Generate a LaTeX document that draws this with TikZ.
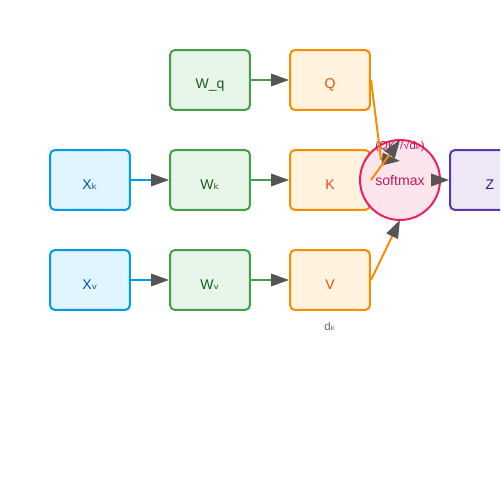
\documentclass[tikz,border=0pt]{standalone}
\usepackage{fontspec}
\setmainfont{Liberation Sans}
\newfontfamily\dv{DejaVu Sans}
\usetikzlibrary{arrows.meta}
\definecolor{xfill}{HTML}{E1F5FE}\definecolor{xdraw}{HTML}{039BE5}\definecolor{xtext}{HTML}{01579B}
\definecolor{wfill}{HTML}{E8F5E9}\definecolor{wdraw}{HTML}{43A047}\definecolor{wtext}{HTML}{1B5E20}
\definecolor{ofill}{HTML}{FFF3E0}\definecolor{odraw}{HTML}{FB8C00}\definecolor{otext}{HTML}{E65100}
\definecolor{sfill}{HTML}{FCE4EC}\definecolor{sdraw}{HTML}{E91E63}\definecolor{stext}{HTML}{C2185B}
\definecolor{zfill}{HTML}{EDE7F6}\definecolor{zdraw}{HTML}{5E35B1}\definecolor{ztext}{HTML}{311B92}
\definecolor{headc}{HTML}{555555}\definecolor{dtext}{HTML}{666666}
\tikzset{
  box/.style={draw, line width=0.04cm, rounded corners=0.1cm, minimum width=1.6cm, minimum height=1.2cm, inner sep=0pt, font=\fontsize{8}{9}\selectfont},
  txt/.style={label={[yshift=-0.1cm, text=#1, font=\fontsize{8}{9}\selectfont]center:}},
  xbox/.style={box, fill=xfill, draw=xdraw},
  wbox/.style={box, fill=wfill, draw=wdraw},
  obox/.style={box, fill=ofill, draw=odraw},
  zbox/.style={box, fill=zfill, draw=zdraw},
  tip/.style={-{Triangle[length=0.36cm, width=0.25cm, color=headc]}},
  conn/.style={line width=0.04cm, tip},
}
\begin{document}
\begin{tikzpicture}[x=0.02cm, y=-0.02cm]
\useasboundingbox (0,0) rectangle (500,500);
\clip (0,0) rectangle (500,500);
% boxes
\node[wbox] (wq) at (210,80) {};
\node[text=wtext, font=\fontsize{8}{9}\selectfont] (twq) at (210,85) {W\_q};
\node[obox] (q) at (330,80) {};
\node[text=otext, font=\fontsize{8}{9}\selectfont] (tq) at (330,85) {Q};
\node[xbox] (xk) at (90,180) {};
\node[text=xtext, font=\fontsize{8}{9}\selectfont] (txk) at (90,185) {X{\dv ₖ}};
\node[wbox] (wk) at (210,180) {};
\node[text=wtext, font=\fontsize{8}{9}\selectfont] (twk) at (210,185) {W{\dv ₖ}};
\node[obox] (k) at (330,180) {};
\node[text=otext, font=\fontsize{8}{9}\selectfont] (tk) at (330,185) {K};
\node[xbox] (xv) at (90,280) {};
\node[text=xtext, font=\fontsize{8}{9}\selectfont] (txv) at (90,285) {X{\dv ᵥ}};
\node[wbox] (wv) at (210,280) {};
\node[text=wtext, font=\fontsize{8}{9}\selectfont] (twv) at (210,285) {W{\dv ᵥ}};
\node[obox] (v) at (330,280) {};
\node[text=otext, font=\fontsize{8}{9}\selectfont] (tv) at (330,285) {V};
\node[text=dtext, font=\fontsize{6.5}{8}\selectfont] (dk) at (330,326) {d{\dv ₖ}};
\node[zbox] (z) at (490,180) {};
\node[text=ztext, font=\fontsize{8}{9}\selectfont] (tz) at (490,185) {Z};
\node[circle, draw=sdraw, fill=sfill, line width=0.04cm, minimum size=1.6cm, inner sep=0pt, text=stext, font=\fontsize{8}{9}\selectfont] (sm) at (400,180) {softmax};
\node[text=stext, font=\fontsize{6.5}{8}\selectfont] (lab) at (400,146) {(QK{\dv ᵀ}/√d{\dv ₖ})};
% connectors
\draw[conn, draw=xdraw] (xk.east) -- (wk.west);
\draw[conn, draw=xdraw] (xv.east) -- (wv.west);
\draw[conn, draw=wdraw] (wq.east) -- (q.west);
\draw[conn, draw=wdraw] (wk.east) -- (k.west);
\draw[conn, draw=wdraw] (wv.east) -- (v.west);
\coordinate (qa) at (381,159);
\coordinate (qb) at (400,161);
\draw[conn, draw=odraw] (q.east) -- (qa) -- (qb);
\coordinate (kb) at (400,140);
\draw[conn, draw=odraw] (k.east) -- (kb);
\coordinate (vb) at (400,220);
\draw[conn, draw=odraw] (v.east) -- (vb);
\draw[conn, draw=sdraw] (sm.east) -- (z.west);
\end{tikzpicture}
\end{document}
